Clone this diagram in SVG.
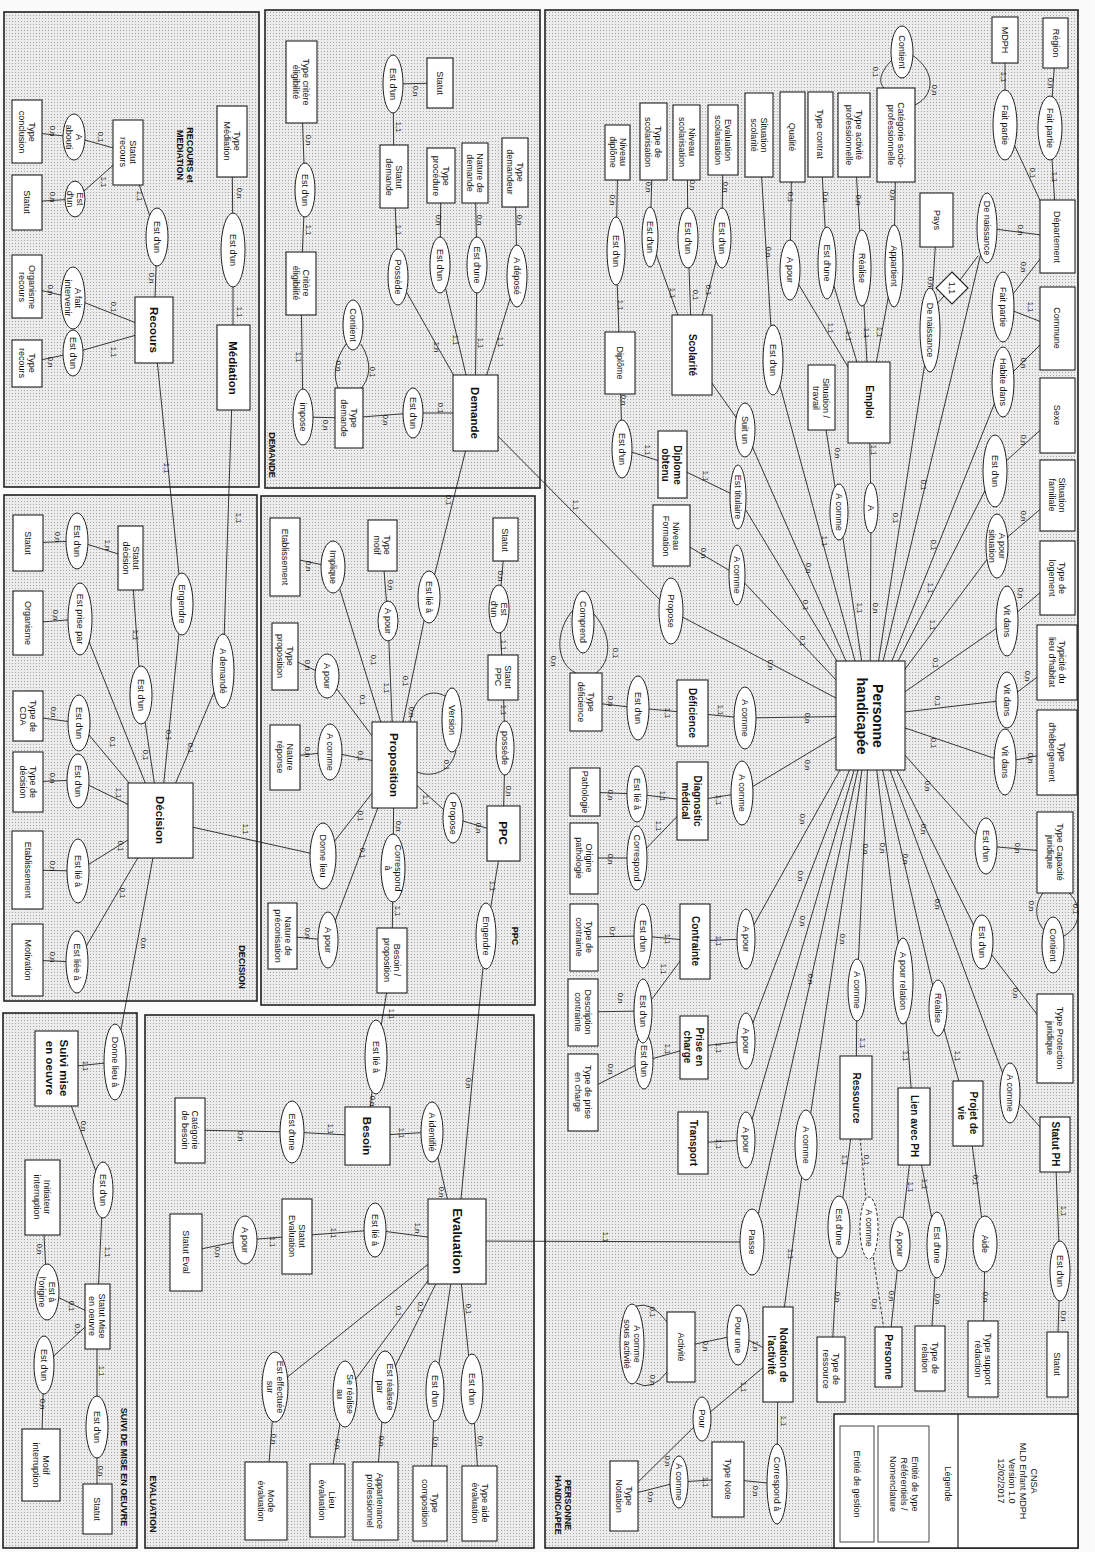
<svg xmlns="http://www.w3.org/2000/svg" width="1095" height="1552" viewBox="0 0 1095 1552">
<defs>
<pattern id="ht" width="3" height="3" patternUnits="userSpaceOnUse"><rect width="3" height="3" fill="#ececec"/><rect width="1" height="1" fill="#a4a4a4"/></pattern>
<style>
.p{fill:url(#ht);stroke:#222;stroke-width:1.6}
.b{fill:#fff;stroke:#222;stroke-width:1.1}
.e{fill:#fff;stroke:#222;stroke-width:1}
.ed{fill:#fff;stroke:#222;stroke-width:1;stroke-dasharray:3 2}
.t{font-family:"Liberation Sans",Arial,sans-serif;font-size:9px;text-anchor:middle;dominant-baseline:central;fill:#111}
.tb{font-family:"Liberation Sans",Arial,sans-serif;font-size:11.5px;font-weight:bold;text-anchor:middle;dominant-baseline:central;fill:#111}
.h{font-family:"Liberation Sans",Arial,sans-serif;font-size:9px;font-weight:bold;text-anchor:middle;dominant-baseline:central;fill:#111}
.c{font-family:"Liberation Sans",Arial,sans-serif;font-size:7.5px;text-anchor:middle;dominant-baseline:central;fill:#111}
.l{fill:none;stroke:#222;stroke-width:0.9}
.ld{fill:none;stroke:#222;stroke-width:0.9;stroke-dasharray:3 2}
</style>
</defs>
<rect width="1095" height="1552" fill="#fafafa"/>
<g id="panels">
<rect class="p" x="4" y="12" width="255" height="475"/>
<rect class="p" x="265" y="10" width="275" height="478"/>
<rect class="p" x="4" y="495" width="253" height="506"/>
<rect class="p" x="261" y="496" width="274" height="509"/>
<rect class="p" x="3" y="1013" width="134" height="535"/>
<rect class="p" x="145" y="1015" width="389" height="533"/>
<rect class="p" x="545" y="10" width="533" height="1538"/>
</g>
<g id="connectors">
<path class="l" d="M232 141L233 250L233 368 M128 152L74 137L27 132 M128 152L75 199L27 202 M128 152L157 237L154 330 M154 330L73 298L27 287 M154 330L73 353L27 363 M233 368L223 671L160 820 M154 330L182 604L160 820"/>
<path class="l" d="M301 82L305 190L301 283 M301 283L303 417L349 418 M346 344Q328 370 340 392 M361 344Q378 372 358 392 M440 83L393 84L394 177 M394 177L398 277L475 413 M441 176L440 265L475 413 M475 173L477 265L475 413 M515 172L517 276L475 413 M349 418L413 413L475 413 M475 413L429 597L394 765 M475 413L671 611L870 716"/>
<path class="l" d="M131 558L77 541L28 543 M131 558L141 695L160 820 M28 623L80 619L160 820 M28 716L79 723L160 820 M28 782L78 780L160 820 M28 870L78 871L160 820 M28 960L77 962L160 820 M160 820L115 1062L57 1068 M160 820L323 856L394 765"/>
<path class="l" d="M57 1068L103 1190L97 1316 M42 1197L47 1292L97 1316 M97 1316L44 1365L41 1465 M97 1316L97 1427L97 1509"/>
<path class="l" d="M190 1130L292 1132L367 1136 M392 960L376 1057L367 1136 M367 1136L432 1132L457 1241 M457 1241L375 1230L297 1236L245 1240L186 1252 M457 1241L275 1387L266 1501 M457 1241L345 1394L327 1500 M457 1241L385 1387L375 1501 M457 1241L435 1391L430 1503 M457 1241L472 1389L480 1503 M457 1241L752 1242L870 716 M503 833L486 936L457 1241"/>
<path class="l" d="M505 540L499 609L503 677L505 748L503 833 M503 833L453 818L394 765 M410 722C414 696 430 688 445 696 M456 750C452 772 432 778 417 772 M382 545L388 621L394 765 M285 557L333 567L394 765 M285 656L327 676L394 765 M285 757L330 752L394 765 M283 936L328 940L394 765 M394 765L393 868L392 960"/>
<path class="l" d="M1056 43L1050 128L1057 237 M1005 40L1005 125L1057 237 M1057 237L987 228L870 716 M1057 237L1003 307L1057 328 M1057 328L1003 382L870 716 M937 220L930 330L870 716 M944 296L936 305 M960 280L978 256 M1057 415L995 471L870 716 M1057 495L997 546L870 716 M1057 578L1007 621L870 716 M1057 662L1007 700L870 716 M1057 752L1005 762L870 716 M1055 852L986 846L870 716 M1055 1038L982 942L870 716 M1055 1144L1010 1093L870 716 M1043 893C1034 905 1035 920 1044 930 M1069 893C1083 906 1081 928 1062 937 M1055 1144L1060 1271L1057 1364 M968 1113L938 1008L870 716 M968 1113L985 1244L983 1359 M914 1126L903 981L870 716 M914 1126L937 1245L930 1358 M914 1126L900 1244L888 1357 M856 1098L857 990L870 716 M856 1098L839 1227L831 1369 M870 716L806 1145L778 1355 M778 1355L738 1335L681 1347 M667 1322Q652 1301 636 1306 M667 1372Q652 1392 636 1383 M778 1355L702 1419L624 1496 M728 1479L679 1482L624 1496 M778 1355L777 1484L728 1479"/>
<path class="ld" d="M856 1098L869 1228L888 1357"/>
<path class="l" d="M870 716L746 1140L693 1143 M870 716L746 1041L694 1047 M870 716L746 939L695 941 M695 941L643 936L584 937 M695 941L643 1011L583 1012 M694 1047L644 1061L583 1092 M870 716L742 793L692 801 M692 801L637 794L585 792 M692 801L637 858L584 858 M870 716L745 718L692 713 M692 713L638 708L586 702 M573 610C554 632 556 664 576 673 M594 614C613 636 611 662 596 673 M870 716L737 575L671 536 M870 716L738 497L672 465 M672 465L622 449L620 363 M618 152L616 251L620 363 M653 142L650 237L692 355 M687 142L688 238L692 355 M723 140L722 238L692 355 M692 355L745 430L870 716 M759 135L773 360L870 716 M896 135L894 266L869 402 M854 135L862 268L869 402 M820 134L827 263L869 402 M792 137L790 270L869 402 M892 60C880 72 878 82 884 88 M912 55C935 70 936 95 915 105 M821 398L839 512L870 716 M869 402L871 508L870 716"/>
</g>
<g id="cardinalities" class="c">
<text transform="translate(239 193) rotate(90)">0,n</text>
<text transform="translate(239 312) rotate(90)">1,1</text>
<text transform="translate(100 137) rotate(90)">0,1</text>
<text transform="translate(52 131) rotate(90)">0,n</text>
<text transform="translate(103 182) rotate(90)">1,1</text>
<text transform="translate(52 197) rotate(90)">0,n</text>
<text transform="translate(139 196) rotate(90)">1,1</text>
<text transform="translate(151 278) rotate(90)">0,n</text>
<text transform="translate(113 307) rotate(90)">0,1</text>
<text transform="translate(50 290) rotate(90)">0,n</text>
<text transform="translate(113 352) rotate(90)">1,1</text>
<text transform="translate(50 362) rotate(90)">0,n</text>
<text transform="translate(166 468) rotate(90)">1,1</text>
<text transform="translate(238 518) rotate(90)">1,1</text>
<text transform="translate(308 140) rotate(90)">0,n</text>
<text transform="translate(308 230) rotate(90)">1,1</text>
<text transform="translate(298 357) rotate(90)">1,1</text>
<text transform="translate(325 425) rotate(90)">0,n</text>
<text transform="translate(338 366) rotate(90)">0,n</text>
<text transform="translate(372 372) rotate(90)">0,1</text>
<text transform="translate(415 91) rotate(90)">0,n</text>
<text transform="translate(398 127) rotate(90)">1,1</text>
<text transform="translate(398 230) rotate(90)">1,1</text>
<text transform="translate(436 347) rotate(90)">1,n</text>
<text transform="translate(438 220) rotate(90)">0,n</text>
<text transform="translate(479 220) rotate(90)">0,n</text>
<text transform="translate(519 220) rotate(90)">0,n</text>
<text transform="translate(455 340) rotate(90)">1,1</text>
<text transform="translate(480 343) rotate(90)">1,1</text>
<text transform="translate(500 342) rotate(90)">1,1</text>
<text transform="translate(440 408) rotate(90)">0,1</text>
<text transform="translate(385 420) rotate(90)">0,n</text>
<text transform="translate(448 500) rotate(90)">0,1</text>
<text transform="translate(575 505) rotate(90)">1,1</text>
<text transform="translate(57 537) rotate(90)">0,n</text>
<text transform="translate(107 545) rotate(90)">1,n</text>
<text transform="translate(55 615) rotate(90)">0,n</text>
<text transform="translate(135 635) rotate(90)">1,1</text>
<text transform="translate(53 712) rotate(90)">0,n</text>
<text transform="translate(112 742) rotate(90)">0,1</text>
<text transform="translate(145 755) rotate(90)">0,1</text>
<text transform="translate(168 735) rotate(90)">0,1</text>
<text transform="translate(190 748) rotate(90)">0,1</text>
<text transform="translate(118 793) rotate(90)">1,1</text>
<text transform="translate(52 778) rotate(90)">0,n</text>
<text transform="translate(120 846) rotate(90)">0,1</text>
<text transform="translate(52 866) rotate(90)">0,n</text>
<text transform="translate(122 893) rotate(90)">0,1</text>
<text transform="translate(52 957) rotate(90)">0,n</text>
<text transform="translate(143 943) rotate(90)">0,n</text>
<text transform="translate(245 829) rotate(90)">1,1</text>
<text transform="translate(85 1066) rotate(90)">1,1</text>
<text transform="translate(83 1126) rotate(90)">0,n</text>
<text transform="translate(107 1252) rotate(90)">1,1</text>
<text transform="translate(39 1249) rotate(90)">0,n</text>
<text transform="translate(71 1306) rotate(90)">0,1</text>
<text transform="translate(77 1329) rotate(90)">0,1</text>
<text transform="translate(42 1404) rotate(90)">0,n</text>
<text transform="translate(101 1371) rotate(90)">1,1</text>
<text transform="translate(100 1471) rotate(90)">0,n</text>
<text transform="translate(240 1136) rotate(90)">0,n</text>
<text transform="translate(330 1129) rotate(90)">1,1</text>
<text transform="translate(372 1101) rotate(90)">0,n</text>
<text transform="translate(391 1014) rotate(90)">1,1</text>
<text transform="translate(401 1133) rotate(90)">1,1</text>
<text transform="translate(441 1192) rotate(90)">0,n</text>
<text transform="translate(417 1228) rotate(90)">1,n</text>
<text transform="translate(333 1233) rotate(90)">1,1</text>
<text transform="translate(272 1242) rotate(90)">1,1</text>
<text transform="translate(217 1252) rotate(90)">0,n</text>
<text transform="translate(273 1439) rotate(90)">0,n</text>
<text transform="translate(337 1444) rotate(90)">0,n</text>
<text transform="translate(398 1311) rotate(90)">0,1</text>
<text transform="translate(381 1441) rotate(90)">0,n</text>
<text transform="translate(420 1307) rotate(90)">0,1</text>
<text transform="translate(435 1442) rotate(90)">0,n</text>
<text transform="translate(468 1309) rotate(90)">0,1</text>
<text transform="translate(480 1441) rotate(90)">0,n</text>
<text transform="translate(605 1237) rotate(90)">1,1</text>
<text transform="translate(468 1083) rotate(90)">0,n</text>
<text transform="translate(500 576) rotate(90)">0,n</text>
<text transform="translate(503 645) rotate(90)">1,1</text>
<text transform="translate(503 710) rotate(90)">1,1</text>
<text transform="translate(508 791) rotate(90)">0,n</text>
<text transform="translate(478 828) rotate(90)">0,n</text>
<text transform="translate(425 800) rotate(90)">1,1</text>
<text transform="translate(411 712) rotate(90)">0,n</text>
<text transform="translate(446 765) rotate(90)">0,1</text>
<text transform="translate(405 681) rotate(90)">0,1</text>
<text transform="translate(390 585) rotate(90)">0,n</text>
<text transform="translate(386 688) rotate(90)">1,1</text>
<text transform="translate(373 660) rotate(90)">0,1</text>
<text transform="translate(308 566) rotate(90)">0,n</text>
<text transform="translate(362 700) rotate(90)">0,1</text>
<text transform="translate(307 665) rotate(90)">0,n</text>
<text transform="translate(307 752) rotate(90)">0,n</text>
<text transform="translate(360 756) rotate(90)">0,1</text>
<text transform="translate(360 816) rotate(90)">0,1</text>
<text transform="translate(362 853) rotate(90)">0,1</text>
<text transform="translate(307 933) rotate(90)">0,n</text>
<text transform="translate(398 826) rotate(90)">0,n</text>
<text transform="translate(397 911) rotate(90)">1,1</text>
<text transform="translate(492 886) rotate(90)">1,1</text>
<text transform="translate(1050 83) rotate(90)">0,n</text>
<text transform="translate(1054 177) rotate(90)">1,1</text>
<text transform="translate(1003 77) rotate(90)">1,1</text>
<text transform="translate(1032 173) rotate(90)">0,1</text>
<text transform="translate(1020 230) rotate(90)">0,n</text>
<text transform="translate(930 282) rotate(90)">0,n</text>
<text transform="translate(1023 267) rotate(90)">0,n</text>
<text transform="translate(1030 307) rotate(90)">1,1</text>
<text transform="translate(1023 363) rotate(90)">0,n</text>
<text transform="translate(1023 440) rotate(90)">0,n</text>
<text transform="translate(1023 516) rotate(90)">0,n</text>
<text transform="translate(1020 593) rotate(90)">0,n</text>
<text transform="translate(1027 676) rotate(90)">0,n</text>
<text transform="translate(1030 758) rotate(90)">0,n</text>
<text transform="translate(1017 848) rotate(90)">0,n</text>
<text transform="translate(1031 906) rotate(90)">0,n</text>
<text transform="translate(1075 909) rotate(90)">0,1</text>
<text transform="translate(1015 993) rotate(90)">0,n</text>
<text transform="translate(1063 1211) rotate(90)">1,1</text>
<text transform="translate(1063 1316) rotate(90)">0,n</text>
<text transform="translate(937 904) rotate(90)">0,n</text>
<text transform="translate(957 1056) rotate(90)">1,1</text>
<text transform="translate(975 1180) rotate(90)">0,1</text>
<text transform="translate(985 1297) rotate(90)">0,n</text>
<text transform="translate(905 859) rotate(90)">0,n</text>
<text transform="translate(905 1056) rotate(90)">1,1</text>
<text transform="translate(924 1184) rotate(90)">1,1</text>
<text transform="translate(937 1299) rotate(90)">0,n</text>
<text transform="translate(910 1187) rotate(90)">1,1</text>
<text transform="translate(891 1296) rotate(90)">0,n</text>
<text transform="translate(866 1160) rotate(90)">0,1</text>
<text transform="translate(874 1304) rotate(90)">0,n</text>
<text transform="translate(842 939) rotate(90)">0,n</text>
<text transform="translate(862 1043) rotate(90)">1,1</text>
<text transform="translate(844 1160) rotate(90)">1,1</text>
<text transform="translate(837 1297) rotate(90)">0,n</text>
<text transform="translate(790 1254) rotate(90)">1,1</text>
<text transform="translate(755 1346) rotate(90)">1,n</text>
<text transform="translate(705 1346) rotate(90)">0,n</text>
<text transform="translate(652 1312) rotate(90)">0,1</text>
<text transform="translate(652 1380) rotate(90)">0,n</text>
<text transform="translate(743 1387) rotate(90)">1,1</text>
<text transform="translate(667 1461) rotate(90)">0,n</text>
<text transform="translate(705 1482) rotate(90)">1,1</text>
<text transform="translate(650 1497) rotate(90)">0,n</text>
<text transform="translate(783 1421) rotate(90)">1,1</text>
<text transform="translate(755 1491) rotate(90)">0,n</text>
<text transform="translate(875 72) rotate(90)">0,1</text>
<text transform="translate(934 90) rotate(90)">0,n</text>
<text transform="translate(892 195) rotate(90)">0,n</text>
<text transform="translate(858 200) rotate(90)">0,n</text>
<text transform="translate(825 197) rotate(90)">0,n</text>
<text transform="translate(790 197) rotate(90)">0,1</text>
<text transform="translate(768 252) rotate(90)">0,n</text>
<text transform="translate(830 328) rotate(90)">1,1</text>
<text transform="translate(848 336) rotate(90)">1,1</text>
<text transform="translate(866 333) rotate(90)">1,1</text>
<text transform="translate(879 332) rotate(90)">1,1</text>
<text transform="translate(837 453) rotate(90)">0,n</text>
<text transform="translate(824 541) rotate(90)">1,1</text>
<text transform="translate(873 450) rotate(90)">1,1</text>
<text transform="translate(875 608) rotate(90)">0,n</text>
<text transform="translate(859 608) rotate(90)">1,1</text>
<text transform="translate(895 518) rotate(90)">0,1</text>
<text transform="translate(923 485) rotate(90)">0,1</text>
<text transform="translate(933 545) rotate(90)">0,1</text>
<text transform="translate(930 588) rotate(90)">1,1</text>
<text transform="translate(932 625) rotate(90)">1,1</text>
<text transform="translate(935 663) rotate(90)">0,1</text>
<text transform="translate(937 701) rotate(90)">0,1</text>
<text transform="translate(933 743) rotate(90)">0,1</text>
<text transform="translate(808 568) rotate(90)">0,n</text>
<text transform="translate(805 605) rotate(90)">0,1</text>
<text transform="translate(802 641) rotate(90)">0,1</text>
<text transform="translate(770 665) rotate(90)">0,n</text>
<text transform="translate(807 718) rotate(90)">0,n</text>
<text transform="translate(807 765) rotate(90)">0,n</text>
<text transform="translate(802 819) rotate(90)">0,n</text>
<text transform="translate(800 876) rotate(90)">0,n</text>
<text transform="translate(802 921) rotate(90)">0,n</text>
<text transform="translate(810 979) rotate(90)">0,n</text>
<text transform="translate(865 849) rotate(90)">0,n</text>
<text transform="translate(882 848) rotate(90)">0,n</text>
<text transform="translate(923 829) rotate(90)">0,n</text>
<text transform="translate(927 786) rotate(90)">0,n</text>
<text transform="translate(612 200) rotate(90)">0,n</text>
<text transform="translate(648 187) rotate(90)">0,n</text>
<text transform="translate(692 185) rotate(90)">0,n</text>
<text transform="translate(725 187) rotate(90)">0,n</text>
<text transform="translate(620 305) rotate(90)">1,1</text>
<text transform="translate(672 293) rotate(90)">1,1</text>
<text transform="translate(695 295) rotate(90)">0,1</text>
<text transform="translate(708 290) rotate(90)">0,1</text>
<text transform="translate(623 400) rotate(90)">0,n</text>
<text transform="translate(647 450) rotate(90)">1,1</text>
<text transform="translate(705 476) rotate(90)">1,1</text>
<text transform="translate(703 553) rotate(90)">0,n</text>
<text transform="translate(553 661) rotate(90)">0,n</text>
<text transform="translate(615 653) rotate(90)">0,1</text>
<text transform="translate(610 701) rotate(90)">0,n</text>
<text transform="translate(667 713) rotate(90)">1,1</text>
<text transform="translate(720 710) rotate(90)">1,1</text>
<text transform="translate(610 795) rotate(90)">0,n</text>
<text transform="translate(662 796) rotate(90)">1,1</text>
<text transform="translate(658 826) rotate(90)">1,1</text>
<text transform="translate(610 859) rotate(90)">0,n</text>
<text transform="translate(718 800) rotate(90)">1,1</text>
<text transform="translate(718 941) rotate(90)">1,1</text>
<text transform="translate(667 939) rotate(90)">1,1</text>
<text transform="translate(612 932) rotate(90)">0,n</text>
<text transform="translate(663 969) rotate(90)">1,1</text>
<text transform="translate(620 998) rotate(90)">0,n</text>
<text transform="translate(718 1048) rotate(90)">1,1</text>
<text transform="translate(667 1049) rotate(90)">1,1</text>
<text transform="translate(610 1069) rotate(90)">0,n</text>
<text transform="translate(718 1144) rotate(90)">1,1</text>
</g>
<g id="nodes">
<g id="n-type-mediation"><rect class="b" x="217" y="106" width="30" height="71"/><text class="t" transform="translate(232 141) rotate(90)"><tspan x="0" y="-5">Type</tspan><tspan x="0" y="5">Médiation</tspan></text></g>
<g id="r-med-estdun"><ellipse class="e" cx="233" cy="250" rx="12" ry="37"/><text class="t" transform="translate(233 250) rotate(90)">Est d'un</text></g>
<g id="n-mediation"><rect class="b" x="217" y="325" width="33" height="85"/><text class="tb" transform="translate(233 368) rotate(90)">Médiation</text></g>
<g id="n-statut-recours"><rect class="b" x="113" y="120" width="30" height="65"/><text class="t" transform="translate(128 152) rotate(90)"><tspan x="0" y="-5">Statut</tspan><tspan x="0" y="5">recours</tspan></text></g>
<g id="r-abouti"><ellipse class="e" cx="74" cy="137" rx="11" ry="23"/><text class="t" transform="translate(74 137) rotate(90)"><tspan x="0" y="-5">A</tspan><tspan x="0" y="5">abouti</tspan></text></g>
<g id="n-type-conclusion"><rect class="b" x="12" y="100" width="30" height="63"/><text class="t" transform="translate(27 132) rotate(90)"><tspan x="0" y="-5">Type</tspan><tspan x="0" y="5">conclusion</tspan></text></g>
<g id="r-rec-estdun2"><ellipse class="e" cx="75" cy="199" rx="10" ry="18"/><text class="t" transform="translate(75 199) rotate(90)"><tspan x="0" y="-5">Est</tspan><tspan x="0" y="5">d'un</tspan></text></g>
<g id="n-statut-rec2"><rect class="b" x="12" y="175" width="30" height="55"/><text class="t" transform="translate(27 202) rotate(90)">Statut</text></g>
<g id="r-rec-estdun"><ellipse class="e" cx="157" cy="237" rx="11" ry="29"/><text class="t" transform="translate(157 237) rotate(90)">Est d'un</text></g>
<g id="n-recours"><rect class="b" x="135" y="297" width="38" height="66"/><text class="tb" transform="translate(154 330) rotate(90)">Recours</text></g>
<g id="n-organisme-recours"><rect class="b" x="12" y="255" width="30" height="63"/><text class="t" transform="translate(27 287) rotate(90)"><tspan x="0" y="-5">Organisme</tspan><tspan x="0" y="5">recours</tspan></text></g>
<g id="r-fait-intervenir"><ellipse class="e" cx="73" cy="298" rx="12" ry="31"/><text class="t" transform="translate(73 298) rotate(90)"><tspan x="0" y="-5">A fait</tspan><tspan x="0" y="5">intervenir</tspan></text></g>
<g id="n-type-recours"><rect class="b" x="12" y="340" width="30" height="47"/><text class="t" transform="translate(27 363) rotate(90)"><tspan x="0" y="-5">Type</tspan><tspan x="0" y="5">recours</tspan></text></g>
<g id="r-rec-estdun3"><ellipse class="e" cx="73" cy="353" rx="10" ry="23"/><text class="t" transform="translate(73 353) rotate(90)">Est d'un</text></g>

<g id="n-type-critere"><rect class="b" x="286" y="41" width="31" height="82"/><text class="t" transform="translate(301 82) rotate(90)"><tspan x="0" y="-5">Type critère</tspan><tspan x="0" y="5">éligibilité</tspan></text></g>
<g id="r-dem-estdun1"><ellipse class="e" cx="305" cy="190" rx="10" ry="27"/><text class="t" transform="translate(305 190) rotate(90)">Est d'un</text></g>
<g id="n-critere"><rect class="b" x="286" y="252" width="30" height="63"/><text class="t" transform="translate(301 283) rotate(90)"><tspan x="0" y="-5">Critère</tspan><tspan x="0" y="5">éligibilité</tspan></text></g>
<g id="r-contient-dem"><ellipse class="e" cx="353" cy="325" rx="10" ry="25"/><text class="t" transform="translate(353 325) rotate(90)">Contient</text></g>
<g id="n-type-demande"><rect class="b" x="335" y="388" width="28" height="60"/><text class="t" transform="translate(349 418) rotate(90)"><tspan x="0" y="-5">Type</tspan><tspan x="0" y="5">demande</tspan></text></g>
<g id="r-impose"><ellipse class="e" cx="303" cy="417" rx="10" ry="28"/><text class="t" transform="translate(303 417) rotate(90)">impose</text></g>
<g id="n-statut-dem"><rect class="b" x="427" y="58" width="26" height="50"/><text class="t" transform="translate(440 83) rotate(90)">Statut</text></g>
<g id="r-dem-estdun2"><ellipse class="e" cx="393" cy="84" rx="10" ry="29"/><text class="t" transform="translate(393 84) rotate(90)">Est d'un</text></g>
<g id="n-statut-demande"><rect class="b" x="380" y="145" width="28" height="63"/><text class="t" transform="translate(394 177) rotate(90)"><tspan x="0" y="-5">Statut</tspan><tspan x="0" y="5">demande</tspan></text></g>
<g id="r-possede"><ellipse class="e" cx="398" cy="277" rx="10" ry="28"/><text class="t" transform="translate(398 277) rotate(90)">Possède</text></g>
<g id="n-type-procedure"><rect class="b" x="427" y="148" width="28" height="55"/><text class="t" transform="translate(441 176) rotate(90)"><tspan x="0" y="-5">Type</tspan><tspan x="0" y="5">procédure</tspan></text></g>
<g id="n-nature-demande"><rect class="b" x="462" y="143" width="26" height="60"/><text class="t" transform="translate(475 173) rotate(90)"><tspan x="0" y="-5">Nature de</tspan><tspan x="0" y="5">demande</tspan></text></g>
<g id="n-type-demandeur"><rect class="b" x="502" y="138" width="26" height="69"/><text class="t" transform="translate(515 172) rotate(90)"><tspan x="0" y="-5">Type</tspan><tspan x="0" y="5">demandeur</tspan></text></g>
<g id="r-dem-estdun3"><ellipse class="e" cx="440" cy="265" rx="10" ry="28"/><text class="t" transform="translate(440 265) rotate(90)">Est d'un</text></g>
<g id="r-dem-estdune"><ellipse class="e" cx="477" cy="265" rx="10" ry="28"/><text class="t" transform="translate(477 265) rotate(90)">Est d'une</text></g>
<g id="r-adepose"><ellipse class="e" cx="517" cy="276" rx="10" ry="31"/><text class="t" transform="translate(517 276) rotate(90)">A déposé</text></g>
<g id="n-demande"><rect class="b" x="453" y="375" width="45" height="76"/><text class="tb" transform="translate(475 413) rotate(90)">Demande</text></g>
<g id="r-dem-estdun4"><ellipse class="e" cx="413" cy="413" rx="10" ry="25"/><text class="t" transform="translate(413 413) rotate(90)">Est d'un</text></g>

<g id="n-statut-decision"><rect class="b" x="118" y="526" width="25" height="64"/><text class="t" transform="translate(131 558) rotate(90)"><tspan x="0" y="-5">Statut</tspan><tspan x="0" y="5">décision</tspan></text></g>
<g id="r-dec-estdun1"><ellipse class="e" cx="77" cy="541" rx="11" ry="28"/><text class="t" transform="translate(77 541) rotate(90)">Est d'un</text></g>
<g id="n-statut-dec2"><rect class="b" x="13" y="515" width="30" height="56"/><text class="t" transform="translate(28 543) rotate(90)">Statut</text></g>
<g id="r-prise-par"><ellipse class="e" cx="80" cy="619" rx="12" ry="36"/><text class="t" transform="translate(80 619) rotate(90)">Est prise par</text></g>
<g id="n-organisme"><rect class="b" x="13" y="591" width="30" height="64"/><text class="t" transform="translate(28 623) rotate(90)">Organisme</text></g>
<g id="r-dec-estdun2"><ellipse class="e" cx="141" cy="695" rx="11" ry="29"/><text class="t" transform="translate(141 695) rotate(90)">Est d'un</text></g>
<g id="r-engendre"><ellipse class="e" cx="182" cy="604" rx="11" ry="31"/><text class="t" transform="translate(182 604) rotate(90)">Engendre</text></g>
<g id="r-ademande"><ellipse class="e" cx="223" cy="671" rx="11" ry="37"/><text class="t" transform="translate(223 671) rotate(90)">A demandé</text></g>
<g id="n-type-cda"><rect class="b" x="13" y="691" width="30" height="50"/><text class="t" transform="translate(28 716) rotate(90)"><tspan x="0" y="-5">Type de</tspan><tspan x="0" y="5">CDA</tspan></text></g>
<g id="r-dec-estdun3"><ellipse class="e" cx="79" cy="723" rx="11" ry="28"/><text class="t" transform="translate(79 723) rotate(90)">Est d'un</text></g>
<g id="n-type-decision"><rect class="b" x="13" y="752" width="30" height="60"/><text class="t" transform="translate(28 782) rotate(90)"><tspan x="0" y="-5">Type de</tspan><tspan x="0" y="5">décision</tspan></text></g>
<g id="r-dec-estdun4"><ellipse class="e" cx="78" cy="781" rx="11" ry="27"/><text class="t" transform="translate(78 781) rotate(90)">Est d'un</text></g>
<g id="n-decision"><rect class="b" x="128" y="783" width="65" height="75"/><text class="tb" transform="translate(160 820) rotate(90)">Décision</text></g>
<g id="n-etablissement-dec"><rect class="b" x="12" y="831" width="31" height="78"/><text class="t" transform="translate(28 870) rotate(90)">Etablissement</text></g>
<g id="r-dec-estliea"><ellipse class="e" cx="78" cy="871" rx="11" ry="32"/><text class="t" transform="translate(78 871) rotate(90)">Est lié à</text></g>
<g id="n-motivation"><rect class="b" x="12" y="924" width="31" height="72"/><text class="t" transform="translate(28 960) rotate(90)">Motivation</text></g>
<g id="r-dec-estliee"><ellipse class="e" cx="77" cy="962" rx="11" ry="31"/><text class="t" transform="translate(77 962) rotate(90)">Est liée à</text></g>

<g id="n-suivi"><rect class="b" x="35" y="1031" width="43" height="75"/><text class="tb" transform="translate(57 1068) rotate(90)"><tspan x="0" y="-7">Suivi mise</tspan><tspan x="0" y="7">en oeuvre</tspan></text></g>
<g id="r-donne-lieu-a"><ellipse class="e" cx="115" cy="1062" rx="11" ry="38"/><text class="t" transform="translate(115 1062) rotate(90)">Donne lieu à</text></g>
<g id="r-suivi-estdun1"><ellipse class="e" cx="103" cy="1190" rx="10" ry="28"/><text class="t" transform="translate(103 1190) rotate(90)">Est d'un</text></g>
<g id="n-initiateur"><rect class="b" x="25" y="1160" width="35" height="75"/><text class="t" transform="translate(42 1197) rotate(90)"><tspan x="0" y="-5">Initiateur</tspan><tspan x="0" y="5">interruption</tspan></text></g>
<g id="n-statut-mo"><rect class="b" x="85" y="1284" width="25" height="65"/><text class="t" transform="translate(97 1316) rotate(90)"><tspan x="0" y="-5">Statut Mise</tspan><tspan x="0" y="5">en oeuvre</tspan></text></g>
<g id="r-origine"><ellipse class="e" cx="47" cy="1292" rx="12" ry="28"/><text class="t" transform="translate(47 1292) rotate(90)"><tspan x="0" y="-5">Est à</tspan><tspan x="0" y="5">l'origine</tspan></text></g>
<g id="r-suivi-estdun2"><ellipse class="e" cx="44" cy="1365" rx="10" ry="29"/><text class="t" transform="translate(44 1365) rotate(90)">Est d'un</text></g>
<g id="n-motif"><rect class="b" x="22" y="1429" width="38" height="72"/><text class="t" transform="translate(41 1465) rotate(90)"><tspan x="0" y="-5">Motif</tspan><tspan x="0" y="5">interruption</tspan></text></g>
<g id="r-suivi-estdun3"><ellipse class="e" cx="97" cy="1427" rx="11" ry="31"/><text class="t" transform="translate(97 1427) rotate(90)">Est d'un</text></g>
<g id="n-statut-suivi"><rect class="b" x="83" y="1484" width="29" height="50"/><text class="t" transform="translate(97 1509) rotate(90)">Statut</text></g>

<g id="n-categorie-besoin"><rect class="b" x="175" y="1098" width="30" height="65"/><text class="t" transform="translate(190 1130) rotate(90)"><tspan x="0" y="-5">Catégorie</tspan><tspan x="0" y="5">de besoin</tspan></text></g>
<g id="r-estdune-besoin"><ellipse class="e" cx="292" cy="1132" rx="12" ry="31"/><text class="t" transform="translate(292 1132) rotate(90)">Est d'une</text></g>
<g id="n-besoin"><rect class="b" x="345" y="1107" width="45" height="58"/><text class="tb" transform="translate(367 1136) rotate(90)">Besoin</text></g>
<g id="r-estliea-besoin"><ellipse class="e" cx="376" cy="1057" rx="11" ry="37"/><text class="t" transform="translate(376 1057) rotate(90)">Est lié à</text></g>
<g id="r-aidentifie"><ellipse class="e" cx="432" cy="1132" rx="11" ry="30"/><text class="t" transform="translate(432 1132) rotate(90)">A identifié</text></g>
<g id="n-evaluation"><rect class="b" x="428" y="1199" width="58" height="85"/><text class="tb" transform="translate(457 1241) rotate(90)" style="font-size:13px">Evaluation</text></g>
<g id="r-estliea-eval"><ellipse class="e" cx="375" cy="1230" rx="11" ry="27"/><text class="t" transform="translate(375 1230) rotate(90)">Est lié à</text></g>
<g id="n-statut-evaluation"><rect class="b" x="282" y="1199" width="30" height="75"/><text class="t" transform="translate(297 1236) rotate(90)"><tspan x="0" y="-5">Statut</tspan><tspan x="0" y="5">Evaluation</tspan></text></g>
<g id="r-apour-eval"><ellipse class="e" cx="245" cy="1240" rx="12" ry="24"/><text class="t" transform="translate(245 1240) rotate(90)">A pour</text></g>
<g id="n-statut-eval"><rect class="b" x="170" y="1214" width="32" height="77"/><text class="t" transform="translate(186 1252) rotate(90)">Statut Eval</text></g>
<g id="r-effectuee"><ellipse class="e" cx="275" cy="1387" rx="13" ry="35"/><text class="t" transform="translate(275 1387) rotate(90)"><tspan x="0" y="-5">Est effectuée</tspan><tspan x="0" y="5">sur</tspan></text></g>
<g id="n-mode-eval"><rect class="b" x="245" y="1462" width="42" height="78"/><text class="t" transform="translate(266 1501) rotate(90)"><tspan x="0" y="-5">Mode</tspan><tspan x="0" y="5">évaluation</tspan></text></g>
<g id="r-serealise"><ellipse class="e" cx="345" cy="1394" rx="12" ry="33"/><text class="t" transform="translate(345 1394) rotate(90)"><tspan x="0" y="-5">Se réalise</tspan><tspan x="0" y="5">au</tspan></text></g>
<g id="n-lieu-eval"><rect class="b" x="310" y="1464" width="35" height="73"/><text class="t" transform="translate(327 1500) rotate(90)"><tspan x="0" y="-5">Lieu</tspan><tspan x="0" y="5">évaluation</tspan></text></g>
<g id="r-realisee-par"><ellipse class="e" cx="385" cy="1387" rx="13" ry="36"/><text class="t" transform="translate(385 1387) rotate(90)"><tspan x="0" y="-5">Est réalisée</tspan><tspan x="0" y="5">par</tspan></text></g>
<g id="n-appartenance"><rect class="b" x="353" y="1462" width="45" height="78"/><text class="t" transform="translate(375 1501) rotate(90)"><tspan x="0" y="-5">Appartenance</tspan><tspan x="0" y="5">professionnel</tspan></text></g>
<g id="r-eval-estdun1"><ellipse class="e" cx="435" cy="1391" rx="9" ry="30"/><text class="t" transform="translate(435 1391) rotate(90)">Est d'un</text></g>
<g id="n-type-composition"><rect class="b" x="413" y="1466" width="34" height="75"/><text class="t" transform="translate(430 1503) rotate(90)"><tspan x="0" y="-5">Type</tspan><tspan x="0" y="5">composition</tspan></text></g>
<g id="r-eval-estdun2"><ellipse class="e" cx="472" cy="1389" rx="11" ry="35"/><text class="t" transform="translate(472 1389) rotate(90)">Est d'un</text></g>
<g id="n-type-aide"><rect class="b" x="462" y="1466" width="35" height="75"/><text class="t" transform="translate(480 1503) rotate(90)"><tspan x="0" y="-5">Type aide</tspan><tspan x="0" y="5">évaluation</tspan></text></g>

<g id="n-statut-ppc-s"><rect class="b" x="493" y="518" width="25" height="43"/><text class="t" transform="translate(505 540) rotate(90)">Statut</text></g>
<g id="r-ppc-estdun"><ellipse class="e" cx="499" cy="609" rx="10" ry="24"/><text class="t" transform="translate(499 609) rotate(90)"><tspan x="0" y="-5">Est</tspan><tspan x="0" y="5">d'un</tspan></text></g>
<g id="n-statut-ppc"><rect class="b" x="488" y="655" width="30" height="45"/><text class="t" transform="translate(503 677) rotate(90)"><tspan x="0" y="-5">Statut</tspan><tspan x="0" y="5">PPC</tspan></text></g>
<g id="r-possede-ppc"><ellipse class="e" cx="505" cy="748" rx="9" ry="27"/><text class="t" transform="translate(505 748) rotate(90)">possède</text></g>
<g id="n-ppc"><rect class="b" x="487" y="806" width="33" height="55"/><text class="tb" transform="translate(503 833) rotate(90)">PPC</text></g>
<g id="r-propose-ppc"><ellipse class="e" cx="453" cy="818" rx="10" ry="25"/><text class="t" transform="translate(453 818) rotate(90)">Propose</text></g>
<g id="r-version"><ellipse class="e" cx="452" cy="720" rx="10" ry="32"/><text class="t" transform="translate(452 720) rotate(90)">Version</text></g>
<g id="n-proposition"><rect class="b" x="372" y="722" width="45" height="86"/><text class="tb" transform="translate(394 765) rotate(90)">Proposition</text></g>
<g id="r-estliea-prop"><ellipse class="e" cx="429" cy="597" rx="11" ry="26"/><text class="t" transform="translate(429 597) rotate(90)">Est lié à</text></g>
<g id="n-type-motif"><rect class="b" x="368" y="520" width="29" height="51"/><text class="t" transform="translate(382 545) rotate(90)"><tspan x="0" y="-5">Type</tspan><tspan x="0" y="5">motif</tspan></text></g>
<g id="r-apour-motif"><ellipse class="e" cx="388" cy="621" rx="10" ry="20"/><text class="t" transform="translate(388 621) rotate(90)">A pour</text></g>
<g id="r-implique"><ellipse class="e" cx="333" cy="567" rx="12" ry="26"/><text class="t" transform="translate(333 567) rotate(90)">Implique</text></g>
<g id="n-etablissement-ppc"><rect class="b" x="270" y="518" width="30" height="78"/><text class="t" transform="translate(285 557) rotate(90)">Etablissement</text></g>
<g id="r-apour-typeprop"><ellipse class="e" cx="327" cy="676" rx="12" ry="22"/><text class="t" transform="translate(327 676) rotate(90)">A pour</text></g>
<g id="n-type-proposition"><rect class="b" x="272" y="623" width="26" height="67"/><text class="t" transform="translate(285 656) rotate(90)"><tspan x="0" y="-5">Type</tspan><tspan x="0" y="5">proposition</tspan></text></g>
<g id="r-acomme-prop"><ellipse class="e" cx="330" cy="752" rx="12" ry="28"/><text class="t" transform="translate(330 752) rotate(90)">A comme</text></g>
<g id="n-nature-reponse"><rect class="b" x="270" y="725" width="30" height="65"/><text class="t" transform="translate(285 757) rotate(90)"><tspan x="0" y="-5">Nature</tspan><tspan x="0" y="5">réponse</tspan></text></g>
<g id="r-donne-lieu"><ellipse class="e" cx="323" cy="856" rx="13" ry="33"/><text class="t" transform="translate(323 856) rotate(90)">Donne lieu</text></g>
<g id="r-apour-precon"><ellipse class="e" cx="328" cy="940" rx="10" ry="28"/><text class="t" transform="translate(328 940) rotate(90)">A pour</text></g>
<g id="n-nature-precon"><rect class="b" x="268" y="903" width="29" height="66"/><text class="t" transform="translate(283 936) rotate(90)"><tspan x="0" y="-5">Nature de</tspan><tspan x="0" y="5">préconisation</tspan></text></g>
<g id="r-correspond-a"><ellipse class="e" cx="393" cy="868" rx="12" ry="34"/><text class="t" transform="translate(393 868) rotate(90)"><tspan x="0" y="-5">Correspond</tspan><tspan x="0" y="5">à</tspan></text></g>
<g id="n-besoin-prop"><rect class="b" x="377" y="928" width="30" height="65"/><text class="t" transform="translate(392 960) rotate(90)"><tspan x="0" y="-5">Besoin /</tspan><tspan x="0" y="5">proposition</tspan></text></g>
<g id="r-engendre-ppc"><ellipse class="e" cx="486" cy="936" rx="10" ry="33"/><text class="t" transform="translate(486 936) rotate(90)">Engendre</text></g>

<g id="n-region"><rect class="b" x="1043" y="18" width="25" height="50"/><text class="t" transform="translate(1056 43) rotate(90)">Région</text></g>
<g id="n-mdph"><rect class="b" x="992" y="17" width="26" height="46"/><text class="t" transform="translate(1005 40) rotate(90)">MDPH</text></g>
<g id="r-faitpartie1"><ellipse class="e" cx="1050" cy="128" rx="12" ry="32"/><text class="t" transform="translate(1050 128) rotate(90)">Fait partie</text></g>
<g id="r-faitpartie2"><ellipse class="e" cx="1005" cy="125" rx="12" ry="35"/><text class="t" transform="translate(1005 125) rotate(90)">Fait partie</text></g>
<g id="n-departement"><rect class="b" x="1040" y="200" width="35" height="73"/><text class="t" transform="translate(1057 237) rotate(90)">Département</text></g>
<g id="r-denaiss1"><ellipse class="e" cx="987" cy="228" rx="10" ry="35"/><text class="t" transform="translate(987 228) rotate(90)">De naissance</text></g>
<g id="n-pays"><rect class="b" x="920" y="193" width="33" height="54"/><text class="t" transform="translate(937 220) rotate(90)">Pays</text></g>
<g id="x-diamond"><path class="b" d="M952 272L968 288L952 304L936 288Z"/><text class="t" transform="translate(952 288) rotate(90)">1,1</text></g>
<g id="r-denaiss2"><ellipse class="e" cx="930" cy="330" rx="10" ry="42"/><text class="t" transform="translate(930 330) rotate(90)">De naissance</text></g>
<g id="r-faitpartie3"><ellipse class="e" cx="1003" cy="307" rx="11" ry="35"/><text class="t" transform="translate(1003 307) rotate(90)">Fait partie</text></g>
<g id="n-commune"><rect class="b" x="1040" y="287" width="35" height="83"/><text class="t" transform="translate(1057 328) rotate(90)">Commune</text></g>
<g id="r-habite"><ellipse class="e" cx="1003" cy="382" rx="11" ry="35"/><text class="t" transform="translate(1003 382) rotate(90)">Habite dans</text></g>
<g id="n-sexe"><rect class="b" x="1040" y="378" width="35" height="75"/><text class="t" transform="translate(1057 415) rotate(90)">Sexe</text></g>
<g id="r-ph-estdun-sexe"><ellipse class="e" cx="995" cy="471" rx="12" ry="36"/><text class="t" transform="translate(995 471) rotate(90)">Est d'un</text></g>
<g id="n-sitfam"><rect class="b" x="1040" y="460" width="35" height="71"/><text class="t" transform="translate(1057 495) rotate(90)"><tspan x="0" y="-5">Situation</tspan><tspan x="0" y="5">familiale</tspan></text></g>
<g id="r-apoursit"><ellipse class="e" cx="997" cy="546" rx="11" ry="32"/><text class="t" transform="translate(997 546) rotate(90)"><tspan x="0" y="-5">A pour</tspan><tspan x="0" y="5">situation</tspan></text></g>
<g id="n-typelog"><rect class="b" x="1040" y="541" width="35" height="74"/><text class="t" transform="translate(1057 578) rotate(90)"><tspan x="0" y="-5">Type de</tspan><tspan x="0" y="5">logement</tspan></text></g>
<g id="r-vitdans1"><ellipse class="e" cx="1007" cy="621" rx="11" ry="35"/><text class="t" transform="translate(1007 621) rotate(90)">Vit dans</text></g>
<g id="n-typicite"><rect class="b" x="1037" y="625" width="40" height="75"/><text class="t" transform="translate(1057 662) rotate(90)"><tspan x="0" y="-5">Typicité du</tspan><tspan x="0" y="5">lieu d'habitat</tspan></text></g>
<g id="r-vitdans2"><ellipse class="e" cx="1007" cy="700" rx="11" ry="28"/><text class="t" transform="translate(1007 700) rotate(90)">Vit dans</text></g>
<g id="n-typeheb"><rect class="b" x="1037" y="710" width="40" height="85"/><text class="t" transform="translate(1057 752) rotate(90)"><tspan x="0" y="-5">Type</tspan><tspan x="0" y="5">d'hébergement</tspan></text></g>
<g id="r-vitdans3"><ellipse class="e" cx="1005" cy="762" rx="11" ry="33"/><text class="t" transform="translate(1005 762) rotate(90)">Vit dans</text></g>
<g id="n-capacite"><rect class="b" x="1037" y="812" width="36" height="81"/><text class="t" transform="translate(1055 852) rotate(90)"><tspan x="0" y="-5">Type Capacité</tspan><tspan x="0" y="5">juridique</tspan></text></g>
<g id="r-ph-estdun-cap"><ellipse class="e" cx="986" cy="846" rx="11" ry="28"/><text class="t" transform="translate(986 846) rotate(90)">Est d'un</text></g>
<g id="r-contient-ph"><ellipse class="e" cx="1053" cy="945" rx="11" ry="28"/><text class="t" transform="translate(1053 945) rotate(90)">Contient</text></g>
<g id="n-protection"><rect class="b" x="1037" y="994" width="36" height="89"/><text class="t" transform="translate(1055 1038) rotate(90)"><tspan x="0" y="-5">Type Protection</tspan><tspan x="0" y="5">juridique</tspan></text></g>
<g id="r-ph-estdun-prot"><ellipse class="e" cx="982" cy="942" rx="11" ry="27"/><text class="t" transform="translate(982 942) rotate(90)">Est d'un</text></g>
<g id="r-acomme-statut"><ellipse class="e" cx="1010" cy="1093" rx="10" ry="30"/><text class="t" transform="translate(1010 1093) rotate(90)">A comme</text></g>
<g id="n-statutph"><rect class="b" x="1040" y="1117" width="30" height="55"/><text class="tb" transform="translate(1055 1144) rotate(90)" style="font-size:10px">Statut PH</text></g>
<g id="r-ph-estdun-statut"><ellipse class="e" cx="1060" cy="1271" rx="10" ry="30"/><text class="t" transform="translate(1060 1271) rotate(90)">Est d'un</text></g>
<g id="n-statut-ph2"><rect class="b" x="1047" y="1332" width="21" height="65"/><text class="t" transform="translate(1057 1364) rotate(90)">Statut</text></g>
<g id="n-projet"><rect class="b" x="953" y="1081" width="30" height="65"/><text class="tb" transform="translate(968 1113) rotate(90)" style="font-size:10px"><tspan x="0" y="-6">Projet de</tspan><tspan x="0" y="6">vie</tspan></text></g>
<g id="r-realise-ph"><ellipse class="e" cx="938" cy="1008" rx="9" ry="28"/><text class="t" transform="translate(938 1008) rotate(90)">Réalise</text></g>
<g id="r-aide"><ellipse class="e" cx="985" cy="1244" rx="12" ry="28"/><text class="t" transform="translate(985 1244) rotate(90)">Aide</text></g>
<g id="n-support"><rect class="b" x="968" y="1321" width="30" height="76"/><text class="t" transform="translate(983 1359) rotate(90)"><tspan x="0" y="-5">Type support</tspan><tspan x="0" y="5">rédaction</tspan></text></g>
<g id="n-lien"><rect class="b" x="898" y="1088" width="32" height="77"/><text class="tb" transform="translate(914 1126) rotate(90)" style="font-size:10px">Lien avec PH</text></g>
<g id="r-apourrel"><ellipse class="e" cx="903" cy="981" rx="10" ry="43"/><text class="t" transform="translate(903 981) rotate(90)">A pour relation</text></g>
<g id="r-estdune-rel"><ellipse class="e" cx="937" cy="1245" rx="10" ry="33"/><text class="t" transform="translate(937 1245) rotate(90)">Est d'une</text></g>
<g id="n-typerel"><rect class="b" x="915" y="1326" width="30" height="65"/><text class="t" transform="translate(930 1358) rotate(90)"><tspan x="0" y="-5">Type de</tspan><tspan x="0" y="5">relation</tspan></text></g>
<g id="r-apour-pers"><ellipse class="e" cx="900" cy="1244" rx="10" ry="27"/><text class="t" transform="translate(900 1244) rotate(90)">A pour</text></g>
<g id="n-personne"><rect class="b" x="875" y="1327" width="27" height="60"/><text class="tb" transform="translate(888 1357) rotate(90)" style="font-size:10px">Personne</text></g>
<g id="r-acomme-pers"><ellipse class="ed" cx="869" cy="1228" rx="9" ry="31"/><text class="t" transform="translate(869 1228) rotate(90)">A comme</text></g>
<g id="n-ressource"><rect class="b" x="840" y="1056" width="32" height="83"/><text class="tb" transform="translate(856 1098) rotate(90)" style="font-size:10px">Ressource</text></g>
<g id="r-acomme-res"><ellipse class="e" cx="857" cy="990" rx="9" ry="31"/><text class="t" transform="translate(857 990) rotate(90)">A comme</text></g>
<g id="r-estdune-res"><ellipse class="e" cx="839" cy="1227" rx="11" ry="31"/><text class="t" transform="translate(839 1227) rotate(90)">Est d'une</text></g>
<g id="n-typeres"><rect class="b" x="817" y="1337" width="28" height="65"/><text class="t" transform="translate(831 1369) rotate(90)"><tspan x="0" y="-5">Type de</tspan><tspan x="0" y="5">ressource</tspan></text></g>
<g id="r-passe"><ellipse class="e" cx="752" cy="1242" rx="12" ry="33"/><text class="t" transform="translate(752 1242) rotate(90)">Passe</text></g>
<g id="r-acomme-not"><ellipse class="e" cx="806" cy="1145" rx="11" ry="35"/><text class="t" transform="translate(806 1145) rotate(90)">A comme</text></g>
<g id="n-notation"><rect class="b" x="763" y="1307" width="30" height="95"/><text class="tb" transform="translate(778 1355) rotate(90)" style="font-size:10px"><tspan x="0" y="-6">Notation de</tspan><tspan x="0" y="6">l'activité</tspan></text></g>
<g id="r-pourune"><ellipse class="e" cx="738" cy="1335" rx="11" ry="30"/><text class="t" transform="translate(738 1335) rotate(90)">Pour une</text></g>
<g id="n-activite"><rect class="b" x="667" y="1312" width="28" height="70"/><text class="t" transform="translate(681 1347) rotate(90)">Activité</text></g>
<g id="r-sousact"><ellipse class="e" cx="632" cy="1344" rx="12" ry="40"/><text class="t" transform="translate(632 1344) rotate(90)"><tspan x="0" y="-5">A comme</tspan><tspan x="0" y="5">sous activité</tspan></text></g>
<g id="r-pour"><ellipse class="e" cx="702" cy="1419" rx="9" ry="22"/><text class="t" transform="translate(702 1419) rotate(90)">Pour</text></g>
<g id="n-typenotation"><rect class="b" x="610" y="1461" width="28" height="70"/><text class="t" transform="translate(624 1496) rotate(90)"><tspan x="0" y="-5">Type</tspan><tspan x="0" y="5">Notation</tspan></text></g>
<g id="r-acomme-tn"><ellipse class="e" cx="679" cy="1482" rx="9" ry="26"/><text class="t" transform="translate(679 1482) rotate(90)">A comme</text></g>
<g id="n-typenote"><rect class="b" x="712" y="1442" width="32" height="75"/><text class="t" transform="translate(728 1479) rotate(90)">Type Note</text></g>
<g id="r-correspond-tn"><ellipse class="e" cx="777" cy="1484" rx="10" ry="40"/><text class="t" transform="translate(777 1484) rotate(90)">Correspond à</text></g>

<g id="n-transport"><rect class="b" x="678" y="1112" width="30" height="62"/><text class="tb" transform="translate(693 1143) rotate(90)" style="font-size:10px">Transport</text></g>
<g id="r-apour-transp"><ellipse class="e" cx="746" cy="1140" rx="9" ry="28"/><text class="t" transform="translate(746 1140) rotate(90)">A pour</text></g>
<g id="n-prise"><rect class="b" x="680" y="1016" width="28" height="63"/><text class="tb" transform="translate(694 1047) rotate(90)" style="font-size:10px"><tspan x="0" y="-6">Prise en</tspan><tspan x="0" y="6">charge</tspan></text></g>
<g id="r-apour-prise"><ellipse class="e" cx="746" cy="1041" rx="9" ry="28"/><text class="t" transform="translate(746 1041) rotate(90)">A pour</text></g>
<g id="r-prise-estdun"><ellipse class="e" cx="644" cy="1061" rx="9" ry="28"/><text class="t" transform="translate(644 1061) rotate(90)">Est d'un</text></g>
<g id="n-typeprise"><rect class="b" x="568" y="1054" width="30" height="77"/><text class="t" transform="translate(583 1092) rotate(90)"><tspan x="0" y="-5">Type de prise</tspan><tspan x="0" y="5">en charge</tspan></text></g>
<g id="n-contrainte"><rect class="b" x="680" y="904" width="30" height="75"/><text class="tb" transform="translate(695 941) rotate(90)" style="font-size:10px">Contrainte</text></g>
<g id="r-apour-contr"><ellipse class="e" cx="746" cy="939" rx="9" ry="30"/><text class="t" transform="translate(746 939) rotate(90)">A pour</text></g>
<g id="r-contr-estdun1"><ellipse class="e" cx="643" cy="936" rx="9" ry="32"/><text class="t" transform="translate(643 936) rotate(90)">Est d'un</text></g>
<g id="n-typecontr"><rect class="b" x="570" y="904" width="28" height="67"/><text class="t" transform="translate(584 937) rotate(90)"><tspan x="0" y="-5">Type de</tspan><tspan x="0" y="5">contrainte</tspan></text></g>
<g id="r-contr-estdun2"><ellipse class="e" cx="643" cy="1011" rx="9" ry="32"/><text class="t" transform="translate(643 1011) rotate(90)">Est d'un</text></g>
<g id="n-desccontr"><rect class="b" x="568" y="979" width="30" height="67"/><text class="t" transform="translate(583 1012) rotate(90)"><tspan x="0" y="-5">Description</tspan><tspan x="0" y="5">contrainte</tspan></text></g>
<g id="n-diag"><rect class="b" x="677" y="762" width="31" height="78"/><text class="tb" transform="translate(692 801) rotate(90)" style="font-size:10px"><tspan x="0" y="-6">Diagnostic</tspan><tspan x="0" y="6">médical</tspan></text></g>
<g id="r-acomme-diag"><ellipse class="e" cx="742" cy="793" rx="11" ry="32"/><text class="t" transform="translate(742 793) rotate(90)">A comme</text></g>
<g id="n-pathologie"><rect class="b" x="570" y="768" width="30" height="48"/><text class="t" transform="translate(585 792) rotate(90)">Pathologie</text></g>
<g id="r-estliea-path"><ellipse class="e" cx="637" cy="794" rx="10" ry="28"/><text class="t" transform="translate(637 794) rotate(90)">Est lié à</text></g>
<g id="r-correspond"><ellipse class="e" cx="637" cy="858" rx="10" ry="32"/><text class="t" transform="translate(637 858) rotate(90)">Correspond</text></g>
<g id="n-origine"><rect class="b" x="570" y="823" width="28" height="71"/><text class="t" transform="translate(584 858) rotate(90)"><tspan x="0" y="-5">Origine</tspan><tspan x="0" y="5">pathologie</tspan></text></g>
<g id="n-deficience"><rect class="b" x="677" y="680" width="31" height="66"/><text class="tb" transform="translate(692 713) rotate(90)" style="font-size:10px">Déficience</text></g>
<g id="r-acomme-def"><ellipse class="e" cx="745" cy="718" rx="11" ry="31"/><text class="t" transform="translate(745 718) rotate(90)">A comme</text></g>
<g id="r-def-estdun"><ellipse class="e" cx="638" cy="708" rx="11" ry="32"/><text class="t" transform="translate(638 708) rotate(90)">Est d'un</text></g>
<g id="n-typedef"><rect class="b" x="570" y="673" width="32" height="58"/><text class="t" transform="translate(586 702) rotate(90)"><tspan x="0" y="-5">Type</tspan><tspan x="0" y="5">déficience</tspan></text></g>
<g id="r-comprend"><ellipse class="e" cx="583" cy="622" rx="11" ry="31"/><text class="t" transform="translate(583 622) rotate(90)">Comprend</text></g>
<g id="r-propose-ph"><ellipse class="e" cx="671" cy="611" rx="12" ry="33"/><text class="t" transform="translate(671 611) rotate(90)">Propose</text></g>
<g id="n-nivform"><rect class="b" x="653" y="505" width="37" height="61"/><text class="t" transform="translate(671 536) rotate(90)"><tspan x="0" y="-5">Niveau</tspan><tspan x="0" y="5">Formation</tspan></text></g>
<g id="r-acomme-form"><ellipse class="e" cx="737" cy="575" rx="8" ry="30"/><text class="t" transform="translate(737 575) rotate(90)">A comme</text></g>
<g id="n-diplobt"><rect class="b" x="658" y="431" width="29" height="67"/><text class="tb" transform="translate(672 465) rotate(90)" style="font-size:10px"><tspan x="0" y="-6">Diplome</tspan><tspan x="0" y="6">obtenu</tspan></text></g>
<g id="r-titulaire"><ellipse class="e" cx="738" cy="497" rx="8" ry="32"/><text class="t" transform="translate(738 497) rotate(90)">Est titulaire</text></g>
<g id="r-dipl-estdun"><ellipse class="e" cx="622" cy="449" rx="10" ry="29"/><text class="t" transform="translate(622 449) rotate(90)">Est d'un</text></g>
<g id="n-diplome"><rect class="b" x="605" y="332" width="30" height="62"/><text class="t" transform="translate(620 363) rotate(90)">Diplôme</text></g>
<g id="n-scolarite"><rect class="b" x="672" y="315" width="40" height="80"/><text class="tb" transform="translate(692 355) rotate(90)" style="font-size:10px">Scolarité</text></g>
<g id="r-suitun"><ellipse class="e" cx="745" cy="430" rx="10" ry="27"/><text class="t" transform="translate(745 430) rotate(90)">Suit un</text></g>
<g id="n-evalscol"><rect class="b" x="708" y="105" width="30" height="70"/><text class="t" transform="translate(723 140) rotate(90)"><tspan x="0" y="-5">Evaluation</tspan><tspan x="0" y="5">scolarisation</tspan></text></g>
<g id="n-nivscol"><rect class="b" x="673" y="105" width="27" height="75"/><text class="t" transform="translate(687 142) rotate(90)"><tspan x="0" y="-5">Niveau</tspan><tspan x="0" y="5">scolarisation</tspan></text></g>
<g id="n-typescol"><rect class="b" x="640" y="103" width="27" height="77"/><text class="t" transform="translate(653 142) rotate(90)"><tspan x="0" y="-5">Type de</tspan><tspan x="0" y="5">scolarisation</tspan></text></g>
<g id="n-nivdipl"><rect class="b" x="605" y="125" width="25" height="55"/><text class="t" transform="translate(618 152) rotate(90)"><tspan x="0" y="-5">Niveau</tspan><tspan x="0" y="5">diplôme</tspan></text></g>
<g id="r-sc-estdun1"><ellipse class="e" cx="616" cy="251" rx="9" ry="34"/><text class="t" transform="translate(616 251) rotate(90)">Est d'un</text></g>
<g id="r-sc-estdun2"><ellipse class="e" cx="650" cy="237" rx="8" ry="30"/><text class="t" transform="translate(650 237) rotate(90)">Est d'un</text></g>
<g id="r-sc-estdun3"><ellipse class="e" cx="688" cy="238" rx="10" ry="30"/><text class="t" transform="translate(688 238) rotate(90)">Est d'un</text></g>
<g id="r-sc-estdun4"><ellipse class="e" cx="722" cy="238" rx="9" ry="30"/><text class="t" transform="translate(722 238) rotate(90)">Est d'un</text></g>
<g id="r-sitscol-estdun"><ellipse class="e" cx="773" cy="360" rx="10" ry="35"/><text class="t" transform="translate(773 360) rotate(90)">Est d'un</text></g>
<g id="r-contient-csp"><ellipse class="e" cx="902" cy="52" rx="11" ry="26"/><text class="t" transform="translate(902 52) rotate(90)">Contient</text></g>
<g id="n-csp"><rect class="b" x="877" y="88" width="38" height="94"/><text class="t" transform="translate(896 135) rotate(90)"><tspan x="0" y="-5">Catégorie socio-</tspan><tspan x="0" y="5">professionnelle</tspan></text></g>
<g id="n-typeact"><rect class="b" x="838" y="93" width="32" height="84"/><text class="t" transform="translate(854 135) rotate(90)"><tspan x="0" y="-5">Type activité</tspan><tspan x="0" y="5">professionnelle</tspan></text></g>
<g id="n-typecontrat"><rect class="b" x="808" y="92" width="25" height="85"/><text class="t" transform="translate(820 134) rotate(90)">Type contrat</text></g>
<g id="n-qualite"><rect class="b" x="780" y="92" width="25" height="90"/><text class="t" transform="translate(792 137) rotate(90)">Qualité</text></g>
<g id="n-sitscol"><rect class="b" x="745" y="93" width="28" height="84"/><text class="t" transform="translate(759 135) rotate(90)"><tspan x="0" y="-5">Situation</tspan><tspan x="0" y="5">scolarité</tspan></text></g>
<g id="r-appartient"><ellipse class="e" cx="894" cy="266" rx="9" ry="41"/><text class="t" transform="translate(894 266) rotate(90)">Appartient</text></g>
<g id="r-realise-emp"><ellipse class="e" cx="862" cy="268" rx="9" ry="38"/><text class="t" transform="translate(862 268) rotate(90)">Réalise</text></g>
<g id="r-estdune-emp"><ellipse class="e" cx="827" cy="263" rx="9" ry="36"/><text class="t" transform="translate(827 263) rotate(90)">Est d'une</text></g>
<g id="r-apour-emp"><ellipse class="e" cx="790" cy="270" rx="10" ry="30"/><text class="t" transform="translate(790 270) rotate(90)">A pour</text></g>
<g id="n-emploi"><rect class="b" x="848" y="362" width="42" height="81"/><text class="tb" transform="translate(869 402) rotate(90)" style="font-size:10px">Emploi</text></g>
<g id="n-sittravail"><rect class="b" x="808" y="365" width="27" height="65"/><text class="t" transform="translate(821 398) rotate(90)"><tspan x="0" y="-5">Situation /</tspan><tspan x="0" y="5">travail</tspan></text></g>
<g id="r-acomme-emp"><ellipse class="e" cx="839" cy="512" rx="9" ry="28"/><text class="t" transform="translate(839 512) rotate(90)">A comme</text></g>
<g id="r-a"><ellipse class="e" cx="871" cy="508" rx="7" ry="25"/><text class="t" transform="translate(871 508) rotate(90)">A</text></g>
<g id="n-personne-handicapee"><rect class="b" x="836" y="661" width="69" height="109"/><text class="tb" transform="translate(870 716) rotate(90)" style="font-size:14px"><tspan x="0" y="-8">Personne</tspan><tspan x="0" y="8">handicapée</tspan></text></g>
</g>
<g id="titles">
<text class="h" transform="translate(185 155) rotate(90)"><tspan x="0" y="-5">RECOURS et</tspan><tspan x="0" y="5">MEDIATION</tspan></text>
<text class="h" transform="translate(272 455) rotate(90)">DEMANDE</text>
<text class="h" transform="translate(242 967) rotate(90)">DECISION</text>
<text class="h" transform="translate(515 936) rotate(90)">PPC</text>
<text class="h" transform="translate(124 1467) rotate(90)">SUIVI DE MISE EN OEUVRE</text>
<text class="h" transform="translate(153 1504) rotate(90)">EVALUATION</text>
<text class="h" transform="translate(563 1505) rotate(90)"><tspan x="0" y="-5">PERSONNE</tspan><tspan x="0" y="5">HANDICAPEE</tspan></text>
</g>
<g id="legend">
<rect x="834" y="1414" width="244" height="134" fill="#fff" stroke="#222" stroke-width="1.5"/>
<line x1="958" y1="1414" x2="958" y2="1548" stroke="#222" stroke-width="1.2"/>
<text class="t" transform="translate(1017 1481) rotate(90)"><tspan x="0" y="-16.5">CNSA</tspan><tspan x="0" y="-5.5">MLD Enfant MDPH</tspan><tspan x="0" y="5.5">Version 1.0</tspan><tspan x="0" y="16.5">12/02/2017</tspan></text>
<text class="t" transform="translate(948 1484) rotate(90)">Légende</text>
<rect x="878" y="1426" width="51" height="116" fill="#fff" stroke="#444"/>
<text class="t" transform="translate(904 1484) rotate(90)"><tspan x="0" y="-11">Entité de type</tspan><tspan x="0" y="0">Référentiels /</tspan><tspan x="0" y="11">Nomenclature</tspan></text>
<rect x="840" y="1426" width="34" height="116" fill="#fff" stroke="#444"/>
<text class="t" transform="translate(857 1484) rotate(90)">Entité de gestion</text>
</g>
</svg>
